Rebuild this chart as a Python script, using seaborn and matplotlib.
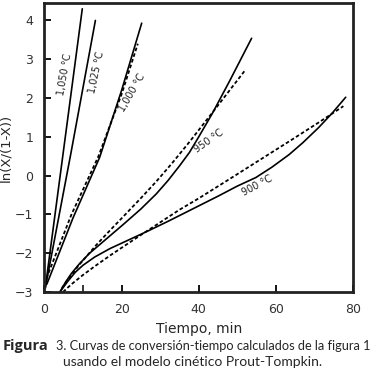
import matplotlib
matplotlib.use("Agg")
import matplotlib.pyplot as plt
import seaborn as sns

# curves (time in min, ln(X/(1-X)))
t1050 = [0.2, 9.8]
y1050 = [-2.9, 4.3]

t1025 = [0.2, 6.8, 13.2]
y1025 = [-2.9, 0.55, 4.0]

t1000 = [0.6, 7.4, 14.3, 20.0, 25.2]
y1000 = [-2.8, -1.09, 0.47, 2.2, 3.93]
t1000_fit = [0.5, 7.0, 14.0, 20.0, 24.2]
y1000_fit = [-2.65, -1.0, 0.5, 2.1, 3.4]

t950 = [4.0, 5.5, 7.0, 9.0, 11.7, 14.3, 17.0, 20.3, 25.0, 29.0, 32.0, 35.0, 37.6, 40.0, 43.5,
        47.9, 53.7]
y950 = [-3.0, -2.74, -2.52, -2.28, -2.0, -1.78, -1.55, -1.27, -0.86, -0.47, -0.13, 0.25, 0.6,
        1.0, 1.6, 2.42, 3.54]
t950_fit = [4.5, 6.5, 9.0, 13.5, 17.0, 20.3, 25.0, 29.0, 33.0, 37.6, 43.5, 47.0, 51.9]
y950_fit = [-2.9, -2.62, -2.3, -1.78, -1.41, -1.07, -0.58, -0.15, 0.31, 0.87, 1.62, 2.07, 2.7]

t900 = [4.0, 6.0, 8.0, 10.0, 13.0, 17.0, 22.0, 27.0, 32.0, 37.6, 45.0, 50.0, 54.8, 59.0, 63.4,
        67.0, 71.1, 74.5, 78.1]
y900 = [-3.0, -2.73, -2.49, -2.31, -2.1, -1.88, -1.65, -1.42, -1.18, -0.9, -0.53, -0.27, -0.05,
        0.22, 0.54, 0.85, 1.24, 1.6, 2.02]
t900_fit = [4.8, 7.0, 10.0, 13.0, 17.0, 20.3, 25.0, 29.0, 35.0, 40.1, 47.0, 54.8, 63.4, 71.1, 77.5]
y900_fit = [-3.0, -2.8, -2.56, -2.34, -2.06, -1.84, -1.53, -1.27, -0.88, -0.58, -0.15, 0.34, 0.88,
            1.37, 1.79]

x_ticks = [0, 20, 40, 60, 80]
y_ticks = [-3, -2, -1, 0, 1, 2, 3, 4]

sns.set_style("ticks")

fig = plt.figure(figsize=(3.72, 3.79), dpi=100)
ax = fig.add_axes([0.1196, 0.2296, 0.8294, 0.7625])

solid = [(t1050, y1050), (t1025, y1025), (t1000, y1000), (t950, y950), (t900, y900)]
dashed = [(t1000_fit, y1000_fit), (t950_fit, y950_fit), (t900_fit, y900_fit)]

for tx, ty in solid:
    sns.lineplot(x=tx, y=ty, ax=ax, color="black", lw=1.2, sort=False, estimator=None)
for tx, ty in dashed:
    sns.lineplot(x=tx, y=ty, ax=ax, color="black", lw=1.3, sort=False, estimator=None,
                 linestyle=(0, (2, 1.3)))

ax.set_xlim(0, 80)
ax.set_ylim(-3, 4.45)
ax.set_xticks(x_ticks)
ax.set_xticks([10], minor=True)
ax.set_yticks(y_ticks)
ax.tick_params(direction="in", length=5, width=1.3, labelsize=9, colors="black",
               labelcolor="#333333", pad=8)
ax.tick_params(which="minor", direction="in", length=5, width=1.3)
for s in ax.spines.values():
    s.set_linewidth(2)
    s.set_color("#222222")

ax.set_xlabel("Tiempo, min", fontsize=10)
ax.set_ylabel("ln(X/(1-X))", fontsize=9.5)
ax.xaxis.set_label_coords(0.5, -0.104)
ax.yaxis.set_label_coords(-0.105, 0.5)

lab = dict(fontsize=7, color="#222222", ha="center", va="center")
ax.text(5.3, 2.6, "1,050 °C", rotation=80, **lab)
ax.text(13.5, 2.65, "1,025 °C", rotation=78, **lab)
ax.text(22.8, 2.15, "1,000 °C", rotation=60, **lab)
ax.text(42.7, 0.9, "950 °C", rotation=35, **lab)
ax.text(55.1, -0.26, "900 °C", rotation=28, **lab)

fig.text(3 / 372, 1 - 346 / 379, "Figura", fontsize=10.5, fontweight="bold",
         family="Open Sans", va="center", ha="left")
fig.text(56 / 372, 1 - 346 / 379, "3. Curvas de conversión-tiempo calculados de la figura 1",
         fontsize=9.2, family="Lato", va="center", ha="left")
fig.text(63 / 372, 1 - 362 / 379, "usando el modelo cinético Prout-Tompkin.",
         fontsize=10, family="Lato", va="center", ha="left")

fig.savefig("out.png", dpi=100)
